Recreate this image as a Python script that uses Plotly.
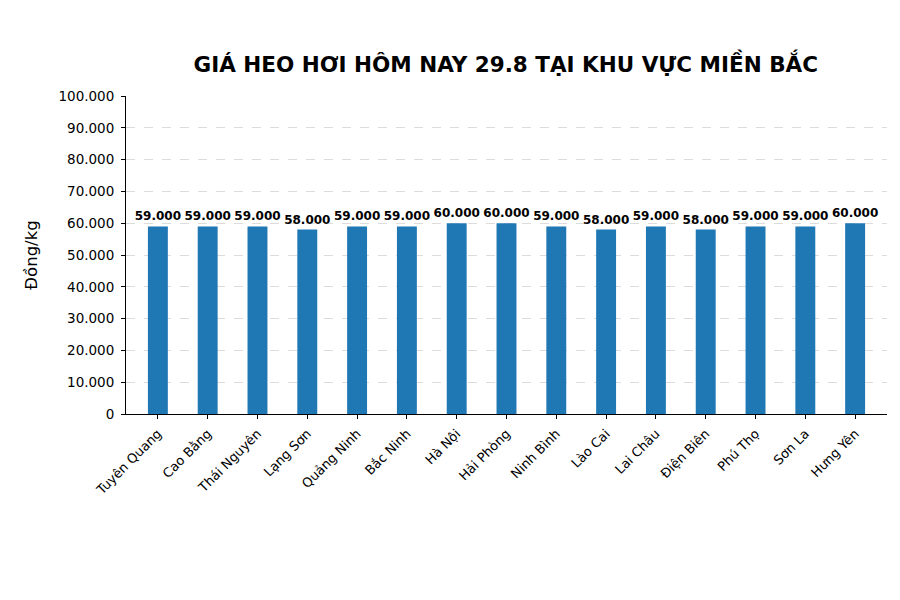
import plotly.graph_objects as go

# gia heo hoi mien Bac 29.8
provinces = ["Tuyên Quang", "Cao Bằng", "Thái Nguyên", "Lạng Sơn", "Quảng Ninh",
             "Bắc Ninh", "Hà Nội", "Hải Phòng", "Ninh Bình", "Lào Cai",
             "Lai Châu", "Điện Biên", "Phú Thọ", "Sơn La", "Hưng Yên"]
prices = [59000, 59000, 59000, 58000, 59000, 59000, 60000, 60000, 59000, 58000,
          59000, 58000, 59000, 59000, 60000]
y_ticks = list(range(0, 100001, 10000))

font = "DejaVu Sans"

fig = go.Figure(go.Bar(
    x=list(range(len(provinces))), y=prices,
    width=0.4, marker_color="#1f77b4", marker_line_width=0,
    texttemplate="%{y:,}", textposition="outside", cliponaxis=False,
    constraintext="none",
    textfont=dict(family=font, size=12, color="black", weight="bold"),
))

# page has ~8px body margin, so figure is a bit smaller than window
fig.update_layout(
    width=892, height=592,
    plot_bgcolor="white", paper_bgcolor="white",
    separators=",.",
    margin=dict(l=118, r=13, t=88, b=186),
    font=dict(family=font, color="black", size=13),
    title=dict(text="<b>GIÁ HEO HƠI HÔM NAY 29.8 TẠI KHU VỰC MIỀN BẮC</b>",
               x=0.558, xanchor="center", y=0.904, yanchor="middle",
               font=dict(size=21.5, family=font, color="black")),
    showlegend=False,
)
fig.update_xaxes(
    tickmode="array", tickvals=list(range(len(provinces))), ticktext=provinces,
    tickangle=-45, range=[-0.64, 14.64], showline=True, linecolor="black",
    ticks="outside", ticklen=4, tickcolor="black", showgrid=False,
    tickfont=dict(size=13), automargin=False, ticklabelstandoff=2,
)
fig.update_yaxes(
    range=[0, 100000], tickvals=y_ticks, tickformat=",d",
    showline=True, linecolor="black", ticks="outside", ticklen=4, tickcolor="black",
    showgrid=True, gridcolor="#dcdcdc", griddash="dash", gridwidth=0.8,
    zeroline=False, automargin=False, ticklabelstandoff=4,
    title=dict(text="Đồng/kg", font=dict(size=16.5), standoff=16),
    tickfont=dict(size=13.5),
)

fig.write_html("out.html")
